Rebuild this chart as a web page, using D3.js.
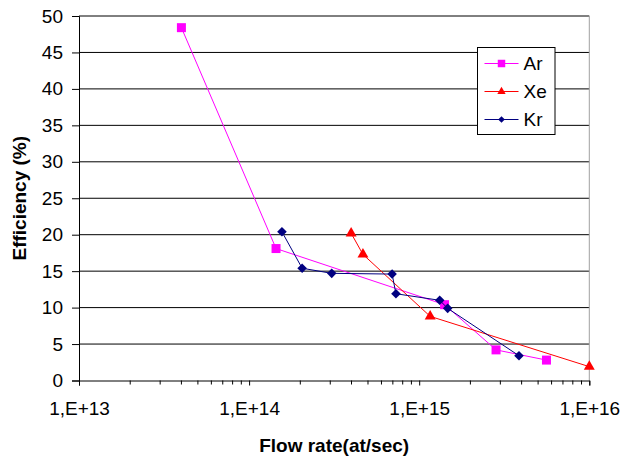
<!DOCTYPE html>
<html>
<head>
<meta charset="utf-8">
<script src="https://cdn.jsdelivr.net/npm/d3@7"></script>
<style>
  body { margin: 0; background: #fff; }
  svg { display: block; font-family: "Liberation Sans", Arial, sans-serif; }
</style>
</head>
<body>
<svg></svg>
<script>
const width = 623;
const height = 458;

// data
const arFlow = [4.0e13, 1.44e14, 1.41e15, 2.83e15, 5.6e15];
const arEff = [48.4, 18.1, 10.4, 4.2, 2.8];
const xeFlow = [3.98e14, 4.67e14, 1.16e15, 1.0e16];
const xeEff = [20.2, 17.3, 8.8, 1.9];
const krFlow = [1.56e14, 2.05e14, 3.06e14, 6.93e14, 7.3e14, 1.32e15, 1.47e15, 3.86e15];
const krEff = [20.4, 15.4, 14.7, 14.6, 11.9, 11.0, 9.9, 3.4];
const seriesNames = ['Ar', 'Xe', 'Kr'];
const seriesColors = ['#ff00ff', '#ff0000', '#000080'];
const xTicks = [1e13, 1e14, 1e15, 1e16];
const yTicks = d3.range(0, 51, 5);

// square diamond, same width and height
const symbolRhombus = {
  draw(ctx, size) {
    const r = Math.sqrt(size / 2);
    ctx.moveTo(0, -r);
    ctx.lineTo(r, 0);
    ctx.lineTo(0, r);
    ctx.lineTo(-r, 0);
    ctx.closePath();
  }
};
const seriesShapes = [d3.symbolSquare, d3.symbolTriangle, symbolRhombus];

const series = [
  { name: seriesNames[0], values: arFlow.map((f, i) => ({ x: f, y: arEff[i] })) },
  { name: seriesNames[1], values: xeFlow.map((f, i) => ({ x: f, y: xeEff[i] })) },
  { name: seriesNames[2], values: krFlow.map((f, i) => ({ x: f, y: krEff[i] })) }
];

const plotLeft = 79, plotRight = 589.3, plotTop = 16, plotBottom = 380.5;

const x = d3.scaleLog().domain([1e13, 1e16]).range([plotLeft, plotRight]);
const y = d3.scaleLinear().domain([0, 50]).range([plotBottom, plotTop]);

const svg = d3.select('svg')
  .attr('width', width)
  .attr('height', height);

// gridlines
svg.append('g')
  .selectAll('line')
  .data(yTicks.filter(d => d > 0))
  .enter()
  .append('line')
    .attr('x1', plotLeft)
    .attr('x2', plotRight)
    .attr('y1', d => y(d))
    .attr('y2', d => y(d))
    .attr('stroke', '#000')
    .attr('stroke-width', 1);

// right border of plot area
svg.append('line')
  .attr('x1', plotRight).attr('x2', plotRight)
  .attr('y1', plotTop).attr('y2', plotBottom)
  .attr('stroke', '#a0a0a0');

// y axis
const yAxis = svg.append('g')
  .attr('transform', `translate(${plotLeft},0)`)
  .call(d3.axisLeft(y).tickValues(yTicks).tickSize(7).tickPadding(9));
yAxis.select('.domain').attr('stroke', '#000');
yAxis.selectAll('.tick line').attr('stroke', '#000');
yAxis.selectAll('text')
  .attr('font-size', 19)
  .attr('font-family', '"Liberation Sans", Arial, sans-serif')
  .attr('fill', '#000');

// x axis, minor ticks for 2..9 per decade
const minor = [];
[1e13, 1e14, 1e15].forEach(dec => {
  for (let k = 2; k <= 9; k++) minor.push(dec * k);
});

const xAxis = svg.append('g')
  .attr('transform', `translate(0,${plotBottom})`)
  .call(d3.axisBottom(x).tickValues(xTicks).tickSize(5).tickPadding(16)
    .tickFormat(d => '1,E+' + Math.round(Math.log10(d))));
xAxis.select('.domain').attr('stroke', '#000');
xAxis.selectAll('.tick line').attr('stroke', '#000');
xAxis.selectAll('text')
  .attr('font-size', 19)
  .attr('font-family', '"Liberation Sans", Arial, sans-serif')
  .attr('fill', '#000');

xAxis.append('g')
  .selectAll('line')
  .data(minor)
  .enter()
  .append('line')
    .attr('x1', d => x(d))
    .attr('x2', d => x(d))
    .attr('y1', 0)
    .attr('y2', 4)
    .attr('stroke', '#000');

// axis titles
svg.append('text')
  .attr('x', (plotLeft + plotRight) / 2)
  .attr('y', 452)
  .attr('text-anchor', 'middle')
  .attr('font-size', 19)
  .attr('font-weight', 'bold')
  .text('Flow rate(at/sec)');

svg.append('text')
  .attr('transform', `translate(26,${(plotTop + plotBottom) / 2}) rotate(-90)`)
  .attr('text-anchor', 'middle')
  .attr('font-size', 19)
  .attr('font-weight', 'bold')
  .text('Efficiency (%)');

// series
const line = d3.line().x(d => x(d.x)).y(d => y(d.y));
const markerSize = [81, 52, 46];

series.forEach((s, i) => {
  const g = svg.append('g');
  g.append('path')
    .datum(s.values)
    .attr('d', line)
    .attr('fill', 'none')
    .attr('stroke', seriesColors[i])
    .attr('stroke-width', 1);
  g.selectAll('path.pt')
    .data(s.values)
    .enter()
    .append('path')
      .attr('class', 'pt')
      .attr('transform', d => `translate(${x(d.x)},${y(d.y)})`)
      .attr('d', d3.symbol().type(seriesShapes[i]).size(markerSize[i]))
      .attr('fill', seriesColors[i]);
});

// legend
const legend = svg.append('g').attr('transform', 'translate(477.5,47.5)');
legend.append('rect')
  .attr('width', 77.5)
  .attr('height', 87)
  .attr('fill', '#fff')
  .attr('stroke', '#000');

const legendItem = legend.selectAll('g')
  .data(seriesNames)
  .enter()
  .append('g')
    .attr('transform', (d, i) => `translate(0,${16 + i * 28})`);

legendItem.append('line')
  .attr('x1', 7).attr('x2', 41)
  .attr('stroke', (d, i) => seriesColors[i]);
legendItem.append('path')
  .attr('transform', 'translate(24,0)')
  .attr('d', (d, i) => d3.symbol().type(seriesShapes[i]).size([56, 30, 22][i])())
  .attr('fill', (d, i) => seriesColors[i]);
legendItem.append('text')
  .attr('x', 46)
  .attr('dy', '0.35em')
  .attr('font-size', 19)
  .text(d => d);
</script>
</body>
</html>
